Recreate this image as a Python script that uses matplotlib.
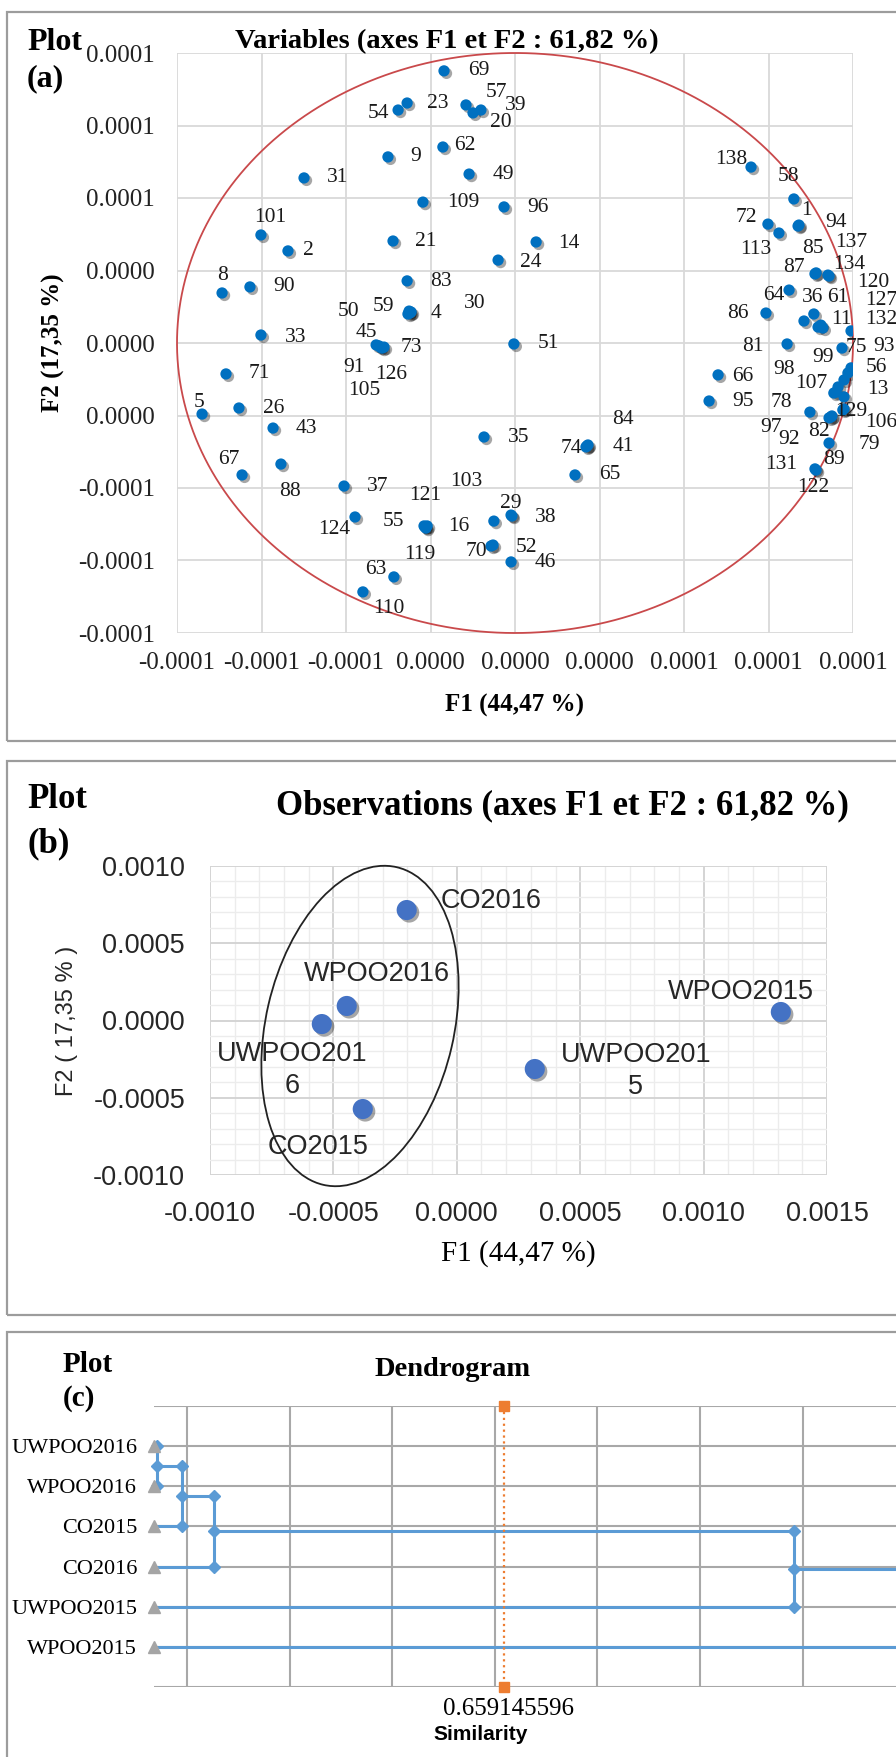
import numpy as np
import matplotlib
matplotlib.use("Agg")
import matplotlib.pyplot as plt
from matplotlib.patches import Rectangle, Ellipse
import matplotlib.patheffects as pe
import matplotlib.transforms as mtransforms
from matplotlib.ticker import FixedLocator, FixedFormatter, MultipleLocator

# ------------------------------------------------------------------ data
# Panel (a): variables (coordinates in units of 1e-5)
VAR_UNIT = 1e-5
var_labels = ["69", "54", "23", "57", "20", "39", "62", "9", "31", "49", "109", "96", "101", "2", "21",
              "14", "24", "8", "90", "83", "4", "59", "50", "30", "45", "73", "91", "126", "105", "33",
              "51", "71", "5", "26", "43", "67", "88", "37", "124", "55", "119", "121", "103", "16", "29",
              "38", "70", "52", "46", "63", "110", "35", "74", "84", "41", "65", "138", "58", "1", "94",
              "72", "113", "87", "85", "137", "134", "64", "36", "61", "11", "120", "127", "132", "86", "81",
              "75", "93", "56", "99", "66", "95", "98", "107", "13", "78", "129", "97", "82", "106", "92",
              "79", "89", "131", "122"]
var_f1 = [-2.52, -4.15, -3.83, -1.74, -1.49, -1.21, -2.56, -4.51, -7.49, -1.63, -3.27, -0.39, -9.02, -8.06, -4.33,
          0.75, -0.60, -10.40, -9.41, -3.83, -3.73, -3.76, -3.80, -3.69, -4.93, -4.65, -4.83, -4.72, -4.79, -9.02,
          -0.04, -10.26, -11.11, -9.80, -8.59, -9.69, -8.31, -6.07, -5.68, -3.20, -3.16, -3.23, -3.12, -0.75, -0.14,
          -0.11, -0.85, -0.78, -0.14, -4.30, -5.40, -1.10, 2.56, 2.59, 2.52, 2.13, 8.38, 9.90, 10.05, 10.08,
          8.98, 9.37, 10.65, 10.69, 11.11, 11.15, 9.73, 10.61, 10.26, 10.76, 10.86, 10.93, 11.93, 8.91, 9.66,
          11.61, 11.93, 11.82, 11.68, 7.21, 6.89, 11.47, 11.32, 11.68, 11.40, 11.64, 10.47, 11.22, 11.68, 11.15,
          11.25, 11.15, 10.65, 10.69]
var_f2 = [11.26, 9.64, 9.93, 9.85, 9.52, 9.64, 8.11, 7.70, 6.83, 6.99, 5.83, 5.63, 4.47, 3.81, 4.22,
          4.18, 3.43, 2.07, 2.32, 2.57, 1.24, 1.32, 1.20, 1.28, -0.08, -0.17, -0.12, -0.21, -0.17, 0.33,
          -0.04, -1.28, -2.94, -2.69, -3.52, -5.46, -5.01, -5.92, -7.20, -7.61, -7.66, -7.57, -7.57, -7.37, -7.12,
          -7.16, -8.40, -8.36, -9.06, -9.68, -10.30, -3.89, -4.26, -4.22, -4.30, -5.46, 7.28, 5.96, 4.84, 4.88,
          4.92, 4.55, 2.86, 2.90, 2.81, 2.77, 2.19, 1.20, 0.91, 0.66, 0.74, 0.62, 0.50, 1.24, -0.04,
          -0.21, -1.03, -1.24, -1.53, -1.32, -2.40, -1.82, -2.07, -2.23, -2.03, -2.77, -2.86, -3.06, -2.73, -3.10,
          -3.02, -4.14, -5.21, -5.26]
var_ticks = [-12, -9, -6, -3, 0, 3, 6, 9, 12]
var_tick_labels = ["-0.0001", "-0.0001", "-0.0001", "0.0000", "0.0000", "0.0000", "0.0001", "0.0001", "0.0001"]
circle_radius = 12

# Panel (b): observations
obs_labels = ["CO2016", "WPOO2016", "UWPOO201\n6", "CO2015", "UWPOO201\n5", "WPOO2015"]
obs_f1 = [-0.000203, -0.000446, -0.000547, -0.000381, 0.000316, 0.001313]
obs_f2 = [0.000715, 0.000094, -0.000023, -0.000573, -0.000314, 0.000055]

# Panel (c): dendrogram
leaf_labels = ["UWPOO2016", "WPOO2016", "CO2015", "CO2016", "UWPOO2015", "WPOO2015"]
merge_pairs = [(0, 1), (6, 2), (7, 3), (8, 4), (9, 5)]
merge_similarity = [0.997, 0.973, 0.942, 0.376, 0.15]
truncation_level = 0.659145596

# ------------------------------------------------------------------ layout helpers
W, H = 896, 1757
fig = plt.figure(figsize=(W / 100, H / 100), dpi=100)
SERIF = ["Liberation Serif", "DejaVu Serif"]
SANS = ["Liberation Sans", "DejaVu Sans"]


def rect(x0, y0, x1, y1):
    return [x0 / W, 1 - y1 / H, (x1 - x0) / W, (y1 - y0) / H]


def ftext(px, py, s, **kw):
    fig.text(px / W, 1 - py / H, s, **kw)


pix = mtransforms.Affine2D().scale(1 / 100) + fig.dpi_scale_trans

# panel borders
for (x0, y0, x1, y1) in [(7, 12, 905, 741), (7, 761, 905, 1315), (7, 1332, 905, 1775)]:
    fig.add_artist(Rectangle((x0, H - y1), x1 - x0, y1 - y0, transform=pix, fill=False,
                             edgecolor="#9c9c9c", lw=1.6))

shadow = [pe.SimplePatchShadow(offset=(1.8, -1.8), shadow_rgbFace="black", alpha=0.35), pe.Normal()]

# ------------------------------------------------------------------ panel (a)
axA = fig.add_axes(rect(177, 53, 853, 633))
axA.set_xlim(-12 * VAR_UNIT, 12 * VAR_UNIT)
axA.set_ylim(-12 * VAR_UNIT, 12 * VAR_UNIT)
tick_vals = [t * VAR_UNIT for t in var_ticks]
axA.xaxis.set_major_locator(FixedLocator(tick_vals))
axA.yaxis.set_major_locator(FixedLocator(tick_vals))
axA.xaxis.set_major_formatter(FixedFormatter(var_tick_labels))
axA.yaxis.set_major_formatter(FixedFormatter(var_tick_labels))
axA.grid(True, color="#d9d9d9", lw=1.3)
axA.set_axisbelow(True)
for s in axA.spines.values():
    s.set_visible(False)
axA.tick_params(length=0, labelsize=18, pad=14)
axA.tick_params(axis="y", pad=16)
for lab in axA.get_xticklabels() + axA.get_yticklabels():
    lab.set_family(SERIF)
    lab.set_color("#222222")

theta = np.linspace(0, 2 * np.pi, 500)
axA.plot(circle_radius * VAR_UNIT * np.cos(theta), circle_radius * VAR_UNIT * np.sin(theta),
         color="#c9494b", lw=1.3, clip_on=False, zorder=2)

xa = np.array(var_f1) * VAR_UNIT
ya = np.array(var_f2) * VAR_UNIT
axA.scatter(xa, ya, s=66, color="#0070C0", zorder=4, path_effects=shadow, linewidths=0)

label_offsets = [(35, 0), (-20, -3), (31, 0), (30, 12), (28, -10), (35, 5), (22, 2), (28, 0), (34, 0), (34, 0),
                 (40, 0), (34, -1), (9, 17), (20, 0), (33, 0), (33, -2), (33, -2), (0, 17), (34, 0), (34, -1),
                 (26, 0), (-26, 5), (-59, 3), (64, 9), (-10, 12), (27, 0), (-25, -22), (9, -26), (-16, -43),
                 (35, -2), (35, 0), (33, 0), (-3, 12), (35, 0), (33, 0), (-13, 15), (9, -27), (34, 0), (-21, -12),
                 (-31, 5), (-6, -26), (1, 30), (39, 44), (-35, -5), (0, 12), (34, -1), (-15, -6), (33, -2),
                 (34, -1), (-18, 7), (26, -17), (35, 0), (-16, -3), (35, 25), (37, 0), (35, 0), (-20, 8),
                 (-5, 22), (8, 16), (37, 3), (-22, 7), (-23, -16), (-21, 6), (-3, 24), (23, 33), (20, 12),
                 (-15, -5), (-1, 16), (34, 24), (23, 8), (52, 43), (58, 28), (30, 11), (-28, 0), (-34, -3),
                 (14, 1), (33, 21), (28, 5), (-21, 22), (25, -2), (34, -1), (-54, 17), (-23, 10), (34, 7),
                 (-55, -10), (8, -2), (-39, -15), (-12, -15), (37, -14), (-40, -22), (37, -29), (5, -16),
                 (-34, 4), (-3, -17)]
for lab, x, y, (dx, dy) in zip(var_labels, xa, ya, label_offsets):
    axA.annotate(lab, (x, y), xytext=(dx, dy), textcoords="offset pixels", ha="center", va="center",
                 fontsize=15.5, family=SERIF, color="#1a1a1a", annotation_clip=False, zorder=5)

ftext(447, 42, "Variables (axes F1 et F2 : 61,82 %)", ha="center", va="center", fontsize=20.5,
      fontweight="bold", family=SERIF)
ftext(27, 42, "Plot", ha="left", va="center", fontsize=23, fontweight="bold", family=SERIF)
ftext(27, 79, "(a)", ha="left", va="center", fontsize=23, fontweight="bold", family=SERIF)
ftext(514, 705, "F1 (44,47 %)", ha="center", va="center", fontsize=18, fontweight="bold", family=SERIF)
ftext(53, 343, "F2 (17,35 %)", ha="center", va="center", fontsize=18, fontweight="bold", family=SERIF,
      rotation=90)

# ------------------------------------------------------------------ panel (b)
axB = fig.add_axes(rect(210, 866, 827, 1175))
axB.set_xlim(-0.001, 0.0015)
axB.set_ylim(-0.001, 0.001)
axB.xaxis.set_major_locator(MultipleLocator(0.0005))
axB.yaxis.set_major_locator(MultipleLocator(0.0005))
axB.xaxis.set_minor_locator(MultipleLocator(0.0001))
axB.yaxis.set_minor_locator(MultipleLocator(0.0001))
fmt4 = matplotlib.ticker.FuncFormatter(lambda v, p: f"{v:.4f}".replace("-0.0000", "0.0000"))
axB.xaxis.set_major_formatter(fmt4)
axB.yaxis.set_major_formatter(fmt4)
axB.grid(True, which="major", color="#d4d4d4", lw=1.4)
axB.grid(True, which="minor", color="#ececec", lw=1.0)
axB.set_axisbelow(True)
for s in axB.spines.values():
    s.set_visible(False)
axB.tick_params(which="both", length=0)
axB.tick_params(labelsize=19.5, labelcolor="#262626")
axB.tick_params(axis="x", pad=19)
axB.tick_params(axis="y", pad=18)
for lab in axB.get_xticklabels() + axB.get_yticklabels():
    lab.set_family(SANS)

axB.scatter(obs_f1, obs_f2, s=210, color="#4472C4", zorder=4, path_effects=shadow, linewidths=0)
obs_offsets = [(84, 9), (30, 32), (-30, -46), (-45, -38), (101, -2), (-40, 20)]
for lab, x, y, (dx, dy) in zip(obs_labels, obs_f1, obs_f2, obs_offsets):
    axB.annotate(lab, (x, y), xytext=(dx, dy), textcoords="offset pixels", ha="center", va="center",
                 fontsize=19.5, family=SANS, color="#262626", linespacing=1.3, annotation_clip=False, zorder=5)

fig.add_artist(Ellipse((360, H - 1026), width=188, height=326, angle=-13, transform=pix, fill=False,
                       edgecolor="#222222", lw=1.3))

ftext(27, 799, "Plot", ha="left", va="center", fontsize=25, fontweight="bold", family=SERIF)
ftext(27, 844, "(b)", ha="left", va="center", fontsize=25, fontweight="bold", family=SERIF)
ftext(562, 806, "Observations (axes F1 et F2 : 61,82 %)", ha="center", va="center", fontsize=25,
      fontweight="bold", family=SERIF)
ftext(518, 1254, "F1 (44,47 %)", ha="center", va="center", fontsize=21, family=SERIF)
ftext(67, 1021, "F2 ( 17,35 % )", ha="center", va="center", fontsize=17, family=SANS, rotation=90,
      color="#262626")

# ------------------------------------------------------------------ panel (c)
axC = fig.add_axes(rect(154, 1406, 1010, 1687))
x_right = 1.0 - (1010 - 154) / 1026
axC.set_xlim(1.0, x_right)
axC.set_ylim(len(leaf_labels) + 1, 0)
axC.xaxis.set_major_locator(FixedLocator([0.9679 - 0.1 * k for k in range(8)]))
axC.xaxis.set_major_formatter(FixedFormatter([""] * 8))
axC.yaxis.set_major_locator(FixedLocator(list(range(len(leaf_labels) + 2))))
axC.yaxis.set_major_formatter(FixedFormatter([""] + leaf_labels + [""]))
axC.grid(True, color="#a8a8a8", lw=1.5)
axC.set_axisbelow(True)
for s in axC.spines.values():
    s.set_visible(False)
axC.tick_params(length=0, labelsize=16, pad=12)
for lab in axC.get_yticklabels():
    lab.set_family(SERIF)

BLUE = "#5B9BD5"
nodes = [(1.0, i + 1.0) for i in range(len(leaf_labels))]
for (a, b), sim in zip(merge_pairs, merge_similarity):
    xa_, ya_ = nodes[a]
    xb_, yb_ = nodes[b]
    ym = (ya_ + yb_) / 2
    axC.plot([xa_, sim, sim, xb_], [ya_, ya_, yb_, yb_], color=BLUE, lw=2.2, zorder=3, clip_on=False)
    axC.plot([sim, sim, sim], [ya_, ym, yb_], ls="none", marker="D", ms=6.5, color=BLUE, zorder=4,
             clip_on=False)
    nodes.append((sim, ym))

axC.plot([1.0] * len(leaf_labels), [i + 1 for i in range(len(leaf_labels))], ls="none", marker="^", ms=8,
         color="#A5A5A5", zorder=5, clip_on=False)

axC.plot([truncation_level, truncation_level], [0, len(leaf_labels) + 1], color="#ED7D31", ls=":", lw=1.6,
         marker="s", ms=7, zorder=6, clip_on=False)
axC.annotate(f"{truncation_level}", (truncation_level, len(leaf_labels) + 1), xytext=(5, -22),
             textcoords="offset pixels", ha="center", va="center", fontsize=18, family=SERIF,
             annotation_clip=False)

ftext(481, 1735, "Similarity", ha="center", va="center", fontsize=15, fontweight="bold", family=SANS)
ftext(453, 1370, "Dendrogram", ha="center", va="center", fontsize=20.5, fontweight="bold", family=SERIF)
ftext(63, 1365, "Plot", ha="left", va="center", fontsize=21, fontweight="bold", family=SERIF)
ftext(63, 1399, "(c)", ha="left", va="center", fontsize=21, fontweight="bold", family=SERIF)

fig.savefig("out.png", dpi=100)
